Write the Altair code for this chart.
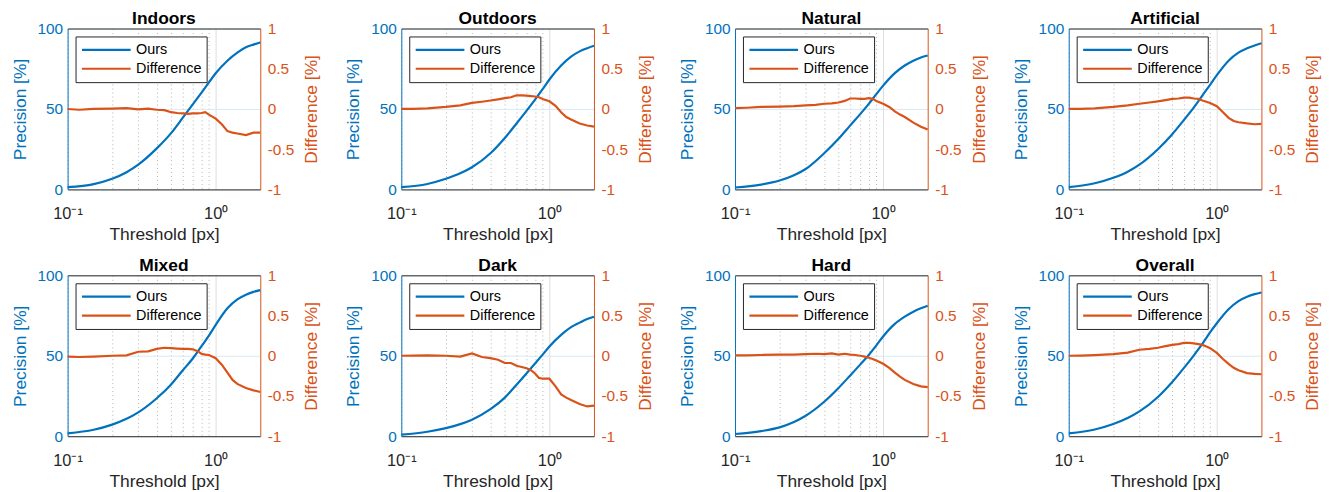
import altair as alt
import pandas as pd

BLUE = "#0072BD"
ORANGE = "#D95319"
DARK = "#262626"
FONT = "Liberation Sans"

PANELS = ["Indoors", "Outdoors", "Natural", "Artificial", "Mixed", "Dark", "Hard", "Overall"]

# Thresholds [px]
T_OURS = [0.1, 0.15, 0.2, 0.25, 0.3, 0.4, 0.5, 0.6, 0.7, 0.8, 0.9, 1.0, 1.2, 1.4, 1.6, 1.8, 2.0]
T_DIFF = [0.1, 0.12, 0.15, 0.2, 0.25, 0.3, 0.35, 0.4, 0.45, 0.5, 0.55, 0.6, 0.65, 0.7, 0.75,
          0.8, 0.85, 0.9, 1.0, 1.1, 1.2, 1.3, 1.4, 1.6, 1.8, 2.0]

# Precision of "Ours" [%]
OURS_INDOORS = [1.4, 3.3, 6.6, 10.7, 15.4, 25.5, 35.0, 44.6, 52.8, 60.0, 66.5, 72.2, 80.0, 85.0, 88.3, 90.0, 91.4]
OURS_OUTDOORS = [1.4, 3.4, 6.6, 10.0, 13.8, 22.5, 32.0, 41.0, 48.8, 55.8, 62.3, 68.3, 77.0, 82.5, 85.8, 87.8, 89.3]
OURS_NATURAL = [1.2, 3.0, 5.5, 8.8, 12.7, 22.5, 31.5, 39.8, 46.8, 53.2, 59.2, 64.5, 72.3, 77.0, 80.0, 82.0, 83.2]
OURS_ARTIFICIAL = [1.4, 3.8, 7.2, 11.0, 15.4, 25.0, 34.3, 43.2, 51.0, 58.5, 65.0, 71.0, 80.0, 85.0, 87.7, 89.5, 90.8]
OURS_MIXED = [1.8, 4.0, 7.2, 10.8, 14.8, 23.6, 32.2, 41.0, 48.3, 55.8, 62.5, 69.2, 79.5, 85.0, 88.0, 89.7, 90.8]
OURS_DARK = [1.0, 2.8, 5.0, 7.5, 10.3, 16.8, 24.0, 32.0, 39.0, 45.2, 50.7, 55.8, 63.0, 67.8, 70.6, 72.9, 74.3]
OURS_HARD = [1.4, 3.2, 5.5, 8.8, 12.7, 21.4, 30.0, 37.8, 44.5, 50.5, 56.5, 62.0, 69.8, 74.3, 77.4, 79.5, 81.1]
OURS_OVERALL = [1.8, 4.2, 7.6, 11.3, 15.4, 24.4, 33.7, 42.5, 50.3, 57.5, 64.5, 70.2, 78.9, 84.0, 86.7, 88.3, 89.3]

# Difference [%]
DIFF_INDOORS = [0.0, -0.01, 0.0, 0.005, 0.01, -0.005, 0.005, -0.01, -0.015, -0.04, -0.05, -0.055, -0.06,
                -0.055, -0.055, -0.05, -0.04, -0.07, -0.12, -0.19, -0.275, -0.295, -0.305, -0.325, -0.295, -0.295]
DIFF_OUTDOORS = [0.0, 0.002, 0.008, 0.025, 0.045, 0.075, 0.09, 0.105, 0.12, 0.135, 0.145, 0.17, 0.17,
                 0.165, 0.16, 0.155, 0.145, 0.125, 0.095, 0.04, -0.04, -0.1, -0.13, -0.18, -0.205, -0.22]
DIFF_NATURAL = [0.01, 0.015, 0.025, 0.03, 0.035, 0.045, 0.05, 0.065, 0.07, 0.08, 0.1, 0.13, 0.13,
                0.125, 0.125, 0.135, 0.125, 0.1, 0.065, 0.025, -0.03, -0.07, -0.1, -0.17, -0.22, -0.255]
DIFF_ARTIFICIAL = [0.0, 0.002, 0.008, 0.025, 0.045, 0.065, 0.08, 0.095, 0.11, 0.125, 0.13, 0.14, 0.14,
                   0.13, 0.125, 0.105, 0.09, 0.075, 0.035, -0.04, -0.11, -0.15, -0.165, -0.18, -0.19, -0.185]
DIFF_MIXED = [-0.01, -0.015, -0.01, 0.0, 0.005, 0.05, 0.055, 0.085, 0.1, 0.095, 0.09, 0.085, 0.085,
              0.08, 0.06, 0.025, 0.015, 0.01, -0.03, -0.11, -0.21, -0.3, -0.35, -0.4, -0.43, -0.45]
DIFF_DARK = [0.0, 0.003, 0.005, 0.0, -0.01, 0.03, -0.015, -0.03, -0.05, -0.09, -0.09, -0.125, -0.14,
             -0.155, -0.18, -0.22, -0.275, -0.285, -0.285, -0.38, -0.48, -0.52, -0.55, -0.6, -0.63, -0.62]
DIFF_HARD = [0.005, 0.005, 0.01, 0.015, 0.015, 0.02, 0.025, 0.02, 0.03, 0.015, 0.025, 0.015, 0.01,
             0.0, -0.01, -0.025, -0.04, -0.06, -0.1, -0.15, -0.21, -0.26, -0.3, -0.35, -0.38, -0.39]
DIFF_OVERALL = [0.0, 0.002, 0.008, 0.02, 0.04, 0.075, 0.085, 0.1, 0.12, 0.135, 0.145, 0.16, 0.16,
                0.155, 0.145, 0.135, 0.115, 0.095, 0.035, -0.04, -0.1, -0.15, -0.18, -0.215, -0.225, -0.23]

OURS = [OURS_INDOORS, OURS_OUTDOORS, OURS_NATURAL, OURS_ARTIFICIAL,
        OURS_MIXED, OURS_DARK, OURS_HARD, OURS_OVERALL]
DIFF = [DIFF_INDOORS, DIFF_OUTDOORS, DIFF_NATURAL, DIFF_ARTIFICIAL,
        DIFF_MIXED, DIFF_DARK, DIFF_HARD, DIFF_OVERALL]

X_TICKS = [0.1, 0.2, 0.3, 0.4, 0.5, 0.6, 0.7, 0.8, 0.9, 1.0]
Y_LEFT_TICKS = [0, 50, 100]
Y_RIGHT_TICKS = [-1, -0.5, 0, 0.5, 1]

W, H = 194, 162


def make_panel(name, ours, diff):
    df_o = pd.DataFrame({"Threshold": T_OURS, "value": ours, "series": "Ours"})
    df_d = pd.DataFrame({"Threshold": T_DIFF, "value": diff, "series": "Difference"})

    xscale = alt.Scale(type="log", domain=[0.1, 2], nice=False)
    color = alt.Color(
        "series:N",
        scale=alt.Scale(domain=["Ours", "Difference"], range=[BLUE, ORANGE]),
        legend=alt.Legend(
            orient="top-left", offset=8, title=None,
            fillColor="white", strokeColor=DARK, padding=5, cornerRadius=0,
            symbolType="stroke", symbolSize=2401, symbolStrokeWidth=2.2,
            clipHeight=17, rowPadding=2, labelOffset=4,
            labelFont=FONT, labelFontSize=14.5, labelColor="black",
        ),
    )

    blue = alt.Chart(df_o).mark_line(strokeWidth=2.2, interpolate="monotone").encode(
        x=alt.X("Threshold:Q", scale=xscale, axis=alt.Axis(
            values=X_TICKS,
            labelExpr="datum.value == 0.1 ? '10⁻¹' : (datum.value == 1 ? '10⁰' : '')",
            labelFlush=False, labelOverlap=False,
            grid=True,
            gridDash={"condition": {"test": "datum.value == 1", "value": []}, "value": [1, 3]},
            gridColor={"condition": {"test": "datum.value == 1", "value": "#dedede"}, "value": "#b5b5b5"},
            ticks=False, domainColor=DARK,
            labelColor=DARK, labelFont=FONT, labelFontSize=16.5, labelPadding=16,
            title="Threshold [px]", titleColor=DARK, titleFont=FONT, titleFontSize=17.5,
            titleFontWeight="normal", titlePadding=4,
        )),
        y=alt.Y("value:Q", scale=alt.Scale(domain=[0, 100], nice=False), axis=alt.Axis(
            orient="left", values=Y_LEFT_TICKS, grid=True, gridColor="#d9eaf5",
            ticks=False, domainColor=BLUE, labelColor=BLUE, labelFont=FONT,
            labelFontSize=15.5, labelPadding=5,
            title="Precision [%]", titleColor=BLUE, titleFont=FONT, titleFontSize=17.5,
            titleFontWeight="normal", titlePadding=8,
        )),
        color=color,
    )

    orange = alt.Chart(df_d).mark_line(strokeWidth=2.2).encode(
        x=alt.X("Threshold:Q", scale=xscale, axis=alt.Axis(
            orient="top", labels=False, ticks=False, grid=False, title=None, domainColor=DARK,
            minExtent=0, maxExtent=0, offset=0,
        )),
        y=alt.Y("value:Q", scale=alt.Scale(domain=[-1, 1], nice=False), axis=alt.Axis(
            orient="right", values=Y_RIGHT_TICKS,
            labelExpr="datum.value < 0 ? '-' + abs(datum.value) : '' + datum.value",
            grid=False, ticks=False, domainColor=ORANGE, labelColor=ORANGE, labelFont=FONT,
            labelFontSize=15.5, labelPadding=7,
            title="Difference [%]", titleColor=ORANGE, titleFont=FONT, titleFontSize=17.5,
            titleFontWeight="normal", titleAngle=270, titleBaseline="top", titlePadding=9,
        )),
        color=color,
    )

    return alt.layer(blue, orange).resolve_scale(y="independent").resolve_axis(
        x="independent"
    ).properties(
        width=W, height=H,
        title=alt.TitleParams(text=name, font=FONT, fontSize=17.5, fontWeight="bold",
                              color="black", offset=-6),
    )


panels = [make_panel(n, o, d) for n, o, d in zip(PANELS, OURS, DIFF)]

chart = alt.concat(*panels, columns=4, spacing={"row": 12.5, "column": 23}).resolve_scale(
    color="independent"
).properties(
    padding={"left": 2, "top": 0, "right": 0, "bottom": 0},
).configure_view(stroke="transparent")

chart.save("out.html", embed_options={"renderer": "svg", "actions": False})
